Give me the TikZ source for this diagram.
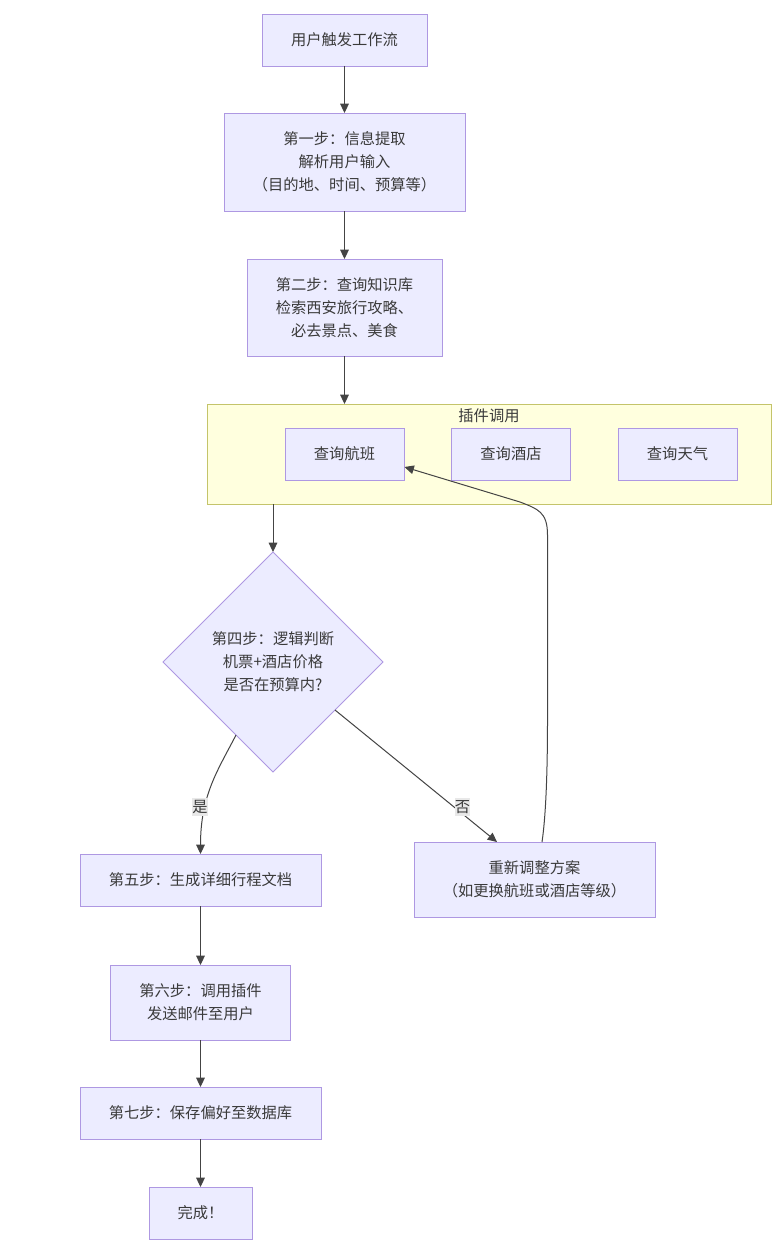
\documentclass[tikz,border=0pt]{standalone}
\usepackage{fontspec}
\setmainfont{Noto Sans CJK SC}
\usetikzlibrary{arrows.meta,shapes.geometric,calc}
\definecolor{nodefill}{HTML}{ECECFF}
\definecolor{nodeline}{HTML}{AE98E2}
\definecolor{clusterfill}{HTML}{FFFFDE}
\definecolor{clusterline}{HTML}{C4C46A}
\definecolor{edgecol}{HTML}{444444}
\definecolor{txtcol}{HTML}{3A3A3A}
\definecolor{labelbg}{HTML}{E8E8E8}
\tikzset{
  x=0.75pt,y=-0.75pt,
  every node/.style={font=\fontsize{11.45pt}{17.25pt}\selectfont,text=txtcol,align=center,inner sep=0pt,outer sep=0pt},
  procbox/.style n args={2}{draw=nodeline,fill=nodefill,line width=0.7pt,minimum width=#1*0.75pt,minimum height=#2*0.75pt},
  decision/.style={diamond,aspect=1,draw=nodeline,fill=nodefill,line width=0.7pt,minimum width=165pt,minimum height=165pt},
  clusterbox/.style={draw=clusterline,fill=clusterfill,line width=0.7pt,minimum width=423pt,minimum height=75pt},
  edge/.style={draw=edgecol,line width=0.75pt,-{Triangle[length=7pt,width=6.5pt]}},
  edgelabel/.style={fill=labelbg,inner xsep=0pt,inner ysep=1.5pt},
}
\begin{document}
\begin{tikzpicture}
\useasboundingbox (0,0) rectangle (784,1259);
\fill[white] (0,0) rectangle (784,1259);

\node[procbox={165}{52}] (start) at (344.5,40) {用户触发工作流};
\node[procbox={241}{98}] (s1) at (344.5,162) {第一步：信息提取\\解析用户输入\\（目的地、时间、预算等）};
\node[procbox={195}{97}] (s2) at (344.5,307.5) {第二步：查询知识库\\检索西安旅行攻略、\\必去景点、美食};

\node[clusterbox] (plugins) at (489,454) {};
\node (pluginstitle) at (489,416) {插件调用};
\node[procbox={119}{52}] (flight) at (344.5,454) {查询航班};
\node[procbox={119}{52}] (hotel) at (511,454) {查询酒店};
\node[procbox={119}{52}] (weather) at (677.5,454) {查询天气};

\node[decision] (s4) at (273,662) {};
\node (s4text) at (273,662) {第四步：逻辑判断\\机票+酒店价格\\是否在预算内?};

\node[procbox={241}{52}] (s5) at (200.5,880) {第五步：生成详细行程文档};
\node[procbox={241}{75}] (adjust) at (534.5,879.5) {重新调整方案\\（如更换航班或酒店等级）};
\node[procbox={180}{75}] (s6) at (200.5,1002.5) {第六步：调用插件\\发送邮件至用户};
\node[procbox={241}{52}] (s7) at (200.5,1113) {第七步：保存偏好至数据库};
\node[procbox={103}{52}] (done) at (200.5,1213) {完成！};

\coordinate (pluginsIn) at (344.5,404);
\coordinate (pluginsOut) at (273,504);
\coordinate (yesStart) at (236,735);
\coordinate (noStart) at (335,710);
\coordinate (noEnd) at (497,842);
\coordinate (backStart) at (542,842);
\coordinate (backEnd) at (404.5,467);

\draw[edge] (start.south) -- (s1.north);
\draw[edge] (s1.south) -- (s2.north);
\draw[edge] (s2.south) -- (pluginsIn);
\draw[edge] (pluginsOut) -- (s4.north);
\draw[edge] (yesStart) .. controls (218,770) and (200.5,795) .. (s5.north);
\draw[edge] (noStart) -- (noEnd);
\draw[edge] (backStart) .. controls (546,815) and (547.5,770) .. (547.5,720)
  -- (547.5,535) .. controls (547.5,512) and (538,509) .. (520,502) -- (backEnd);
\draw[edge] (s5.south) -- (s6.north);
\draw[edge] (s6.south) -- (s7.north);
\draw[edge] (s7.south) -- (done.north);

\node[edgelabel] (yeslabel) at (200,807) {是};
\node[edgelabel] (nolabel) at (462.5,807) {否};
\end{tikzpicture}
\end{document}
